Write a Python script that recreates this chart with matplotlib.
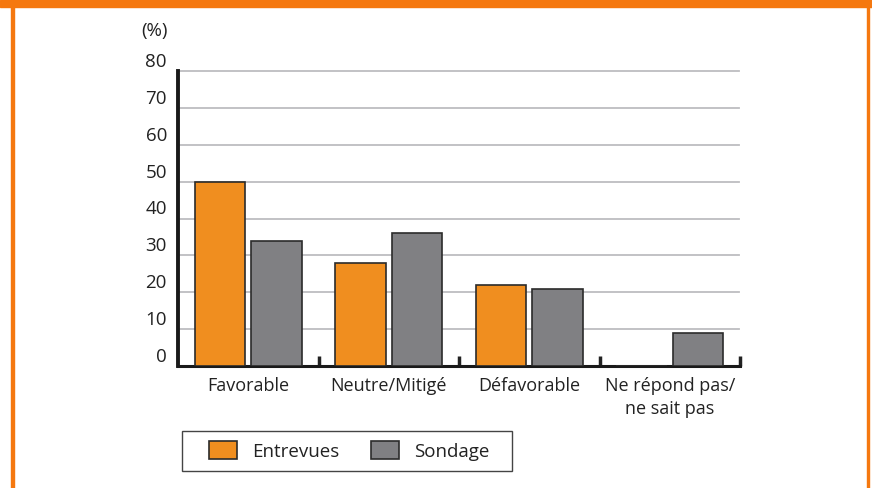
import matplotlib.pyplot as plt
import matplotlib.transforms as mtransforms
from matplotlib.patches import Rectangle
import numpy as np

categories = ["Favorable", "Neutre/Mitigé", "Défavorable", "Ne répond pas/\nne sait pas"]
entrevues = [50, 28, 22, 0]
sondage = [34, 36, 21, 9]
series_names = ["Entrevues", "Sondage"]
yticks = [0, 10, 20, 30, 40, 50, 60, 70, 80]

plt.rcParams['font.family'] = ['Open Sans', 'DejaVu Sans']

orange = '#f08e1f'
gray = '#808083'
edge = '#2b2b2b'
frame = '#f5780f'
txt = '#222222'

fig = plt.figure(figsize=(8.72, 4.88), dpi=100)

# orange frame around the figure
fig.patches.append(Rectangle((0, 488 - 7), 872, 7, transform=None, color=frame, zorder=0))
fig.patches.append(Rectangle((11, 0), 2.5, 488, transform=None, color=frame, zorder=0))
fig.patches.append(Rectangle((866.5, 0), 2.5, 488, transform=None, color=frame, zorder=0))

ax = fig.add_axes([178 / 872, 1 - 366 / 488, (740 - 178) / 872, (366 - 71) / 488])

ind = np.arange(len(categories)) + 0.5
width = 0.36
b1 = ax.bar(ind - 0.2, entrevues, width, color=orange, edgecolor=edge, linewidth=1.2, zorder=3)
b2 = ax.bar(ind + 0.2, sondage, width, color=gray, edgecolor=edge, linewidth=1.2, zorder=3)

ax.set_xlim(0, 4)
ax.set_ylim(0, 80)

for y in yticks[1:]:
    ax.plot([0, 3.99], [y, y], color='#bdbdc0', linewidth=1.3, zorder=1, clip_on=False)

ax.set_yticks(yticks)
ax.tick_params(axis='y', length=0, pad=8, labelsize=13.5, labelcolor=txt)
offset = mtransforms.ScaledTranslation(0, 8 / 72, fig.dpi_scale_trans)
for lab in ax.get_yticklabels():
    lab.set_transform(lab.get_transform() + offset)

ax.set_xticks([1, 2, 3, 4])
ax.set_xticklabels([])
ax.tick_params(axis='x', which='major', direction='in', length=7, width=2.5, color='#222222')
ax.set_xticks(ind, minor=True)
ax.set_xticklabels(categories, minor=True, fontsize=13, color=txt, linespacing=1.35)
ax.tick_params(axis='x', which='minor', length=0, pad=8)

for s in ['top', 'right']:
    ax.spines[s].set_visible(False)
ax.spines['left'].set_linewidth(2.8)
ax.spines['left'].set_color('#1a1a1a')
ax.spines['bottom'].set_linewidth(2.2)
ax.spines['bottom'].set_color('#1a1a1a')

fig.text(155 / 872, 1 - 31 / 488, "(%)", ha='center', va='center', fontsize=13.5, color=txt)

# legend with a hand-drawn box around it
fig.patches.append(Rectangle((182, 488 - 471), 330, 40, transform=None, fill=False,
                             edgecolor='#444444', linewidth=1.0))
leg = fig.legend([b1, b2], series_names, loc='center', bbox_to_anchor=(349 / 872, 1 - 451 / 488),
                 ncol=2, frameon=False, fontsize=13.5,
                 handlelength=1.5, handleheight=1.05, handletextpad=0.8, columnspacing=1.7)
for t in leg.get_texts():
    t.set_color(txt)

fig.savefig("out.png", dpi=100)
